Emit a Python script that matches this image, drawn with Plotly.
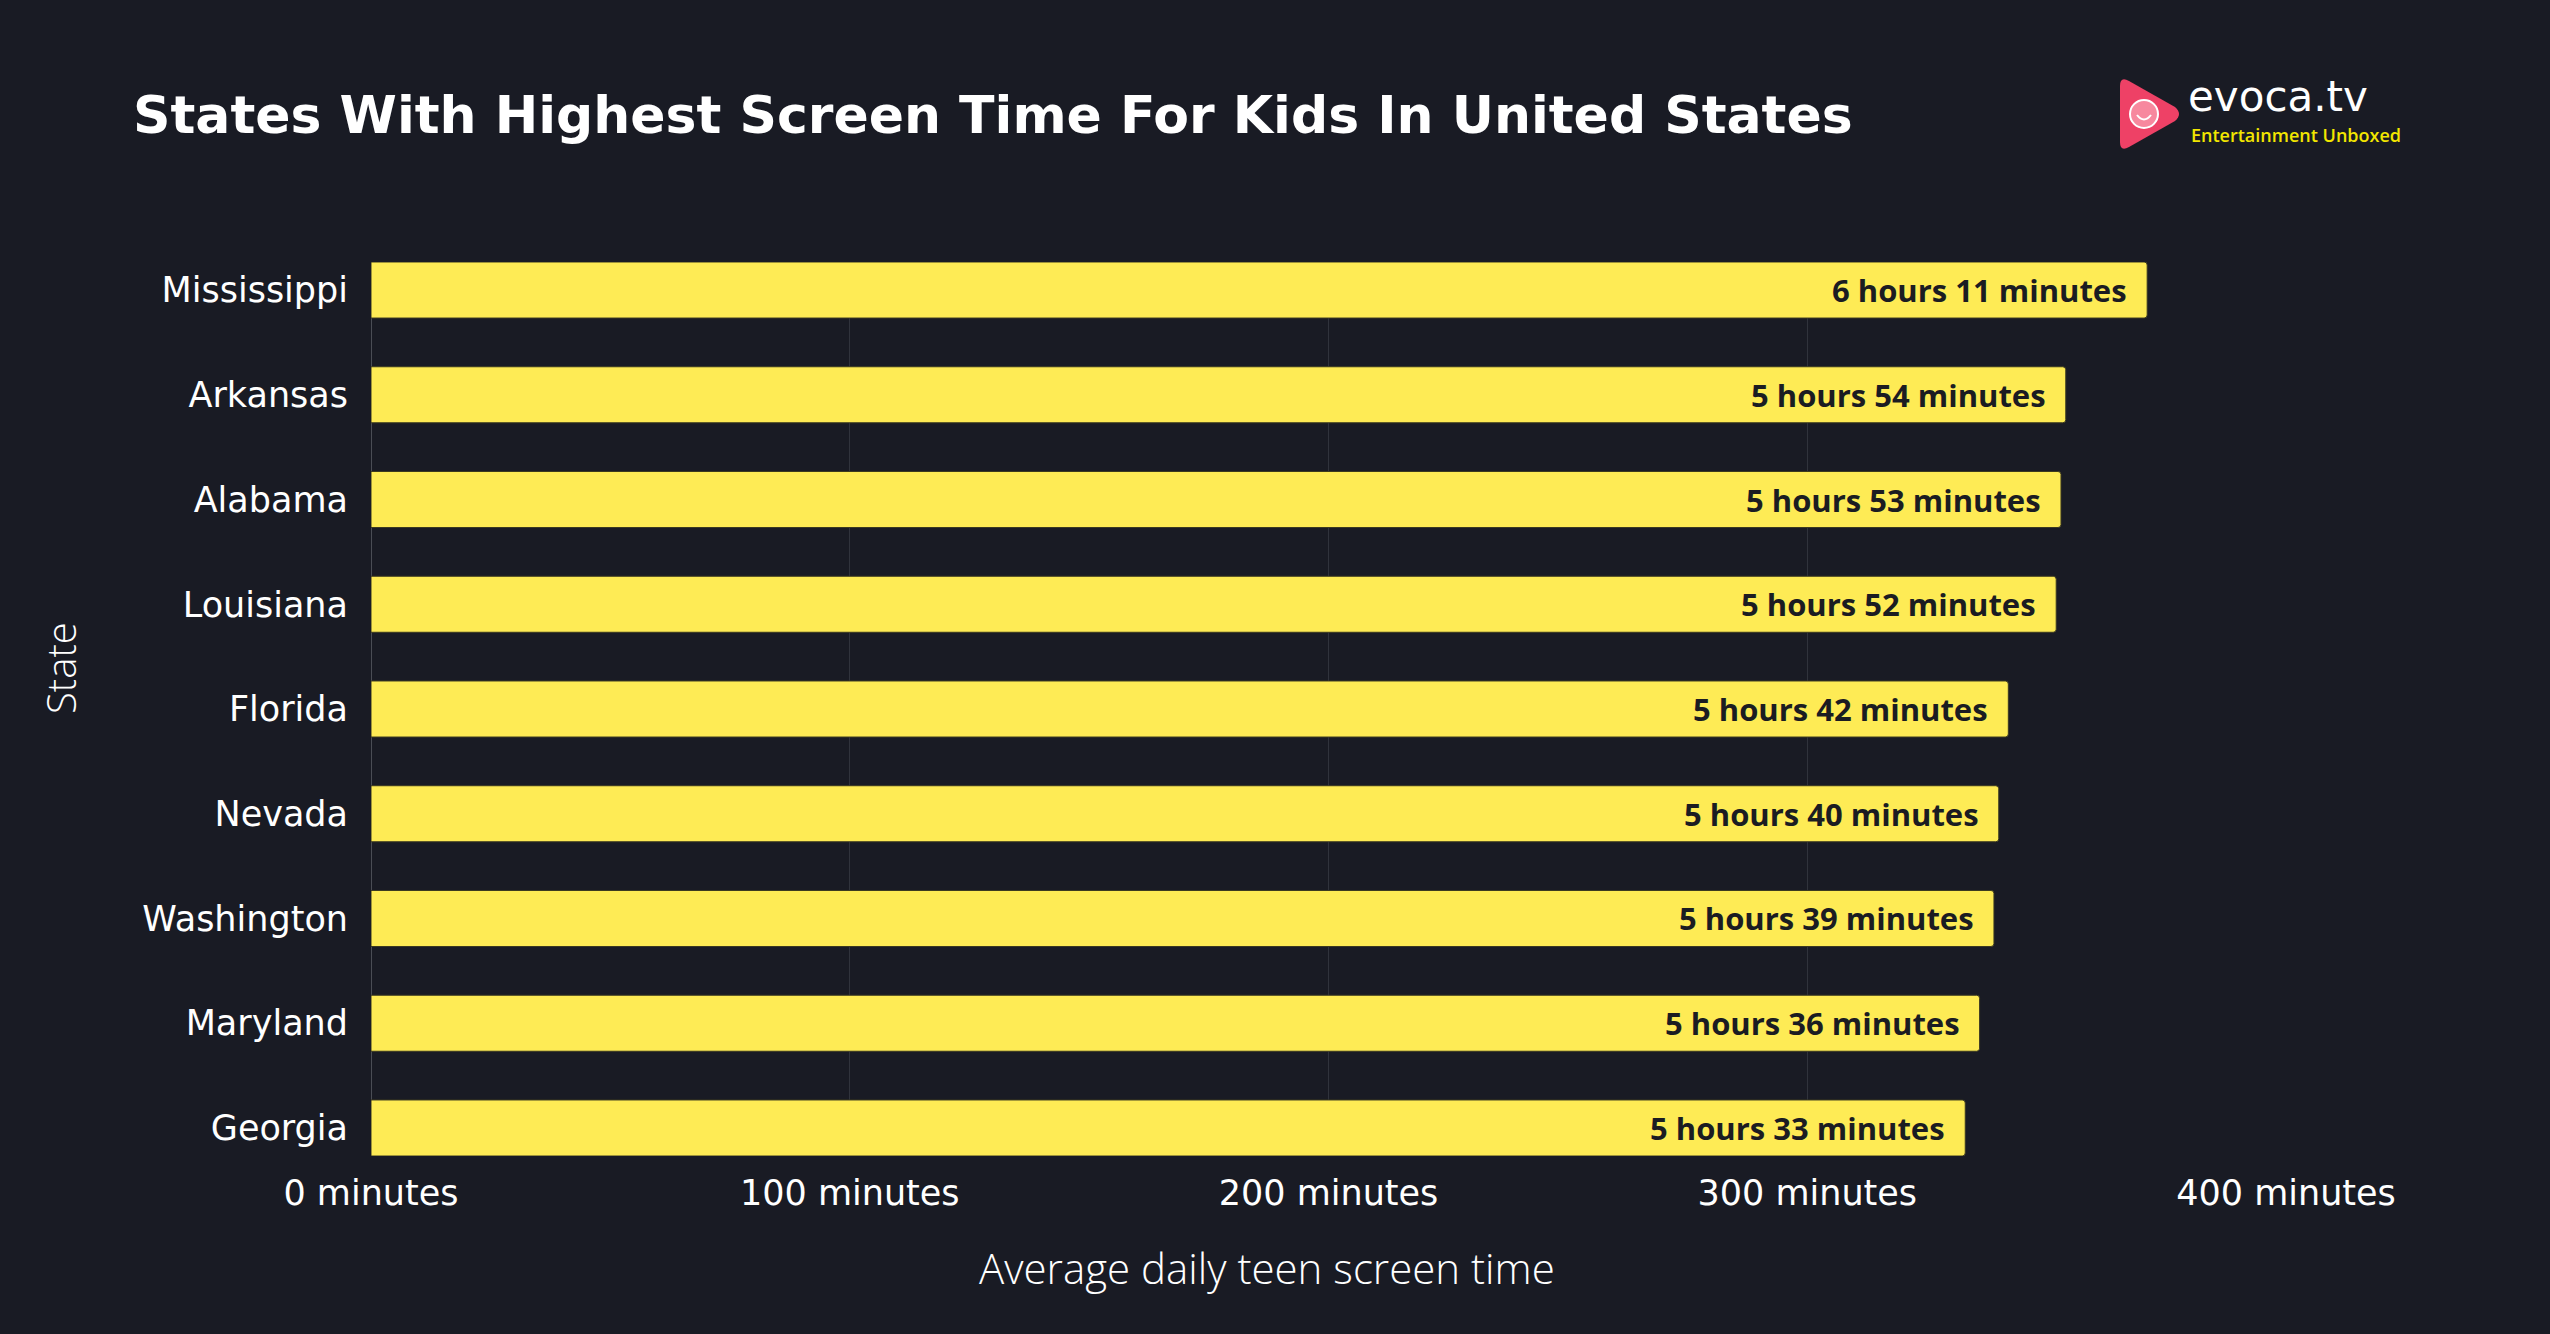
import plotly.graph_objects as go

states = ["Mississippi", "Arkansas", "Alabama", "Louisiana", "Florida",
          "Nevada", "Washington", "Maryland", "Georgia"]
minutes = [371, 354, 353, 352, 342, 340, 339, 336, 333]
labels = ["6 hours 11 minutes", "5 hours 54 minutes", "5 hours 53 minutes",
          "5 hours 52 minutes", "5 hours 42 minutes", "5 hours 40 minutes",
          "5 hours 39 minutes", "5 hours 36 minutes", "5 hours 33 minutes"]
x_ticks = [0, 100, 200, 300, 400]
x_tick_text = ["0 minutes", "100 minutes", "200 minutes", "300 minutes", "400 minutes"]

BG = "#191b24"
YELLOW = "#feeb55"
FONT = "Open Sans"
WIDE = "DejaVu Sans"

W, H = 2550, 1334
L, R, T, B = 371, 264, 262, 178
PW, PH = W - L - R, H - T - B


def px(x):
    return (x - L) / PW


def py(y):
    return (H - B - y) / PH


fig = go.Figure()
fig.add_trace(go.Bar(
    y=states, x=minutes, orientation="h",
    marker=dict(color=YELLOW, line=dict(color="#3a3820", width=1), cornerradius=3),
    hoverinfo="skip",
))

annotations = []
for s, v, lab in zip(states, minutes, labels):
    annotations.append(dict(
        x=v, y=s, xref="x", yref="y", text=lab, showarrow=False,
        xanchor="right", yanchor="middle", xshift=-18,
        font=dict(family=FONT, size=31, color="#1b1c22", weight=700),
    ))

# Title
annotations.append(dict(
    x=px(131), y=py(115), xref="paper", yref="paper",
    text="States With Highest Screen Time For Kids In United States",
    showarrow=False, xanchor="left", yanchor="middle",
    font=dict(family=WIDE, size=52, color="#ffffff", weight=700),
))
# Axis titles
annotations.append(dict(
    x=px(1267), y=py(1267), xref="paper", yref="paper",
    text="Average daily teen screen time", showarrow=False,
    xanchor="center", yanchor="middle",
    font=dict(family=FONT, size=42, color="#ffffff", weight=300),
))
annotations.append(dict(
    x=px(60), y=py(668), xref="paper", yref="paper",
    text="State", showarrow=False, textangle=-90,
    xanchor="center", yanchor="middle",
    font=dict(family=FONT, size=40, color="#ffffff", weight=300),
))
# Logo text
annotations.append(dict(
    x=px(2186), y=py(96), xref="paper", yref="paper",
    text="evoca.tv", showarrow=False, xanchor="left", yanchor="middle",
    font=dict(family=WIDE, size=42, color="#ffffff", weight=500),
))
annotations.append(dict(
    x=px(2189), y=py(135), xref="paper", yref="paper",
    text="Entertainment Unboxed", showarrow=False, xanchor="left", yanchor="middle",
    font=dict(family=FONT, size=18, color="#f2e600", weight=600),
))

shapes = []
# play triangle (rounded)
tri = (f"M {px(2120)},{py(86)} Q {px(2120)},{py(76)} {px(2129)},{py(81)} "
       f"L {px(2175)},{py(107)} Q {px(2183)},{py(114)} {px(2175)},{py(121)} "
       f"L {px(2129)},{py(147)} Q {px(2120)},{py(152)} {px(2120)},{py(142)} Z")
shapes.append(dict(type="path", path=tri, xref="paper", yref="paper",
                   fillcolor="#ee4166", line=dict(width=0), layer="above"))
shapes.append(dict(type="circle", xref="paper", yref="paper",
                   x0=px(2130), x1=px(2158), y0=py(100), y1=py(128),
                   line=dict(color="#ffffff", width=2), fillcolor="#f7889e", layer="above"))
shapes.append(dict(type="path", xref="paper", yref="paper",
                   path=f"M {px(2137)},{py(115)} Q {px(2144)},{py(124)} {px(2151)},{py(115)}",
                   line=dict(color="#ffffff", width=2), layer="above"))

fig.update_layout(
    width=W, height=H,
    paper_bgcolor=BG, plot_bgcolor=BG,
    margin=dict(l=L, r=R, t=T, b=B, pad=0),
    bargap=0.465,
    showlegend=False,
    annotations=annotations,
    shapes=shapes,
    xaxis=dict(
        range=[0, 400], tickvals=x_ticks, ticktext=x_tick_text,
        showgrid=True, gridcolor="#30333c", gridwidth=1,
        zeroline=True, zerolinecolor="#4a4d55", zerolinewidth=1,
        showline=False, ticks="", ticklabelstandoff=13,
        tickfont=dict(family=WIDE, size=35, color="#ffffff", weight=500),
        fixedrange=True,
    ),
    yaxis=dict(
        categoryorder="array", categoryarray=states,
        range=[8.2675, -0.2675],
        showgrid=False, showline=False, ticks="", ticklabelstandoff=22,
        tickfont=dict(family=WIDE, size=35, color="#ffffff", weight=500),
        fixedrange=True,
    ),
)

fig.write_html("out.html", config={"displayModeBar": False},
               post_script="document.body.style.margin='0px';")
